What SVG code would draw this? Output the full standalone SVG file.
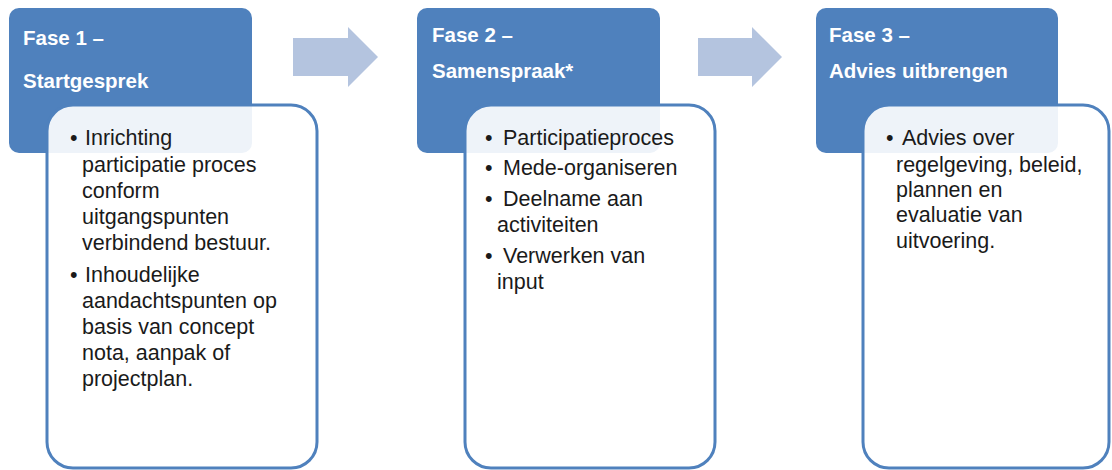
<svg xmlns="http://www.w3.org/2000/svg" width="1112" height="470" viewBox="0 0 1112 470">
<style>
.hdr{fill:#4f81bd}
.body{fill:#ffffff;fill-opacity:0.9;stroke:#4f81bd;stroke-width:3}
.ht{font-family:"Liberation Sans",Arial,sans-serif;font-weight:bold;font-size:20.5px;fill:#ffffff}
.bt{font-family:"Liberation Sans",Arial,sans-serif;font-size:21.5px;fill:#1a1a1a}
.arrow{fill:#b4c4df}
</style>
<rect width="1112" height="470" fill="#ffffff"/>
<g id="connectors">
<polygon class="arrow" points="293,38 348,38 348,27 378,57 348,87 348,76 293,76"/>
<polygon class="arrow" points="698,38 752,38 752,27 782,57 752,87 752,76 698,76"/>
</g>
<g id="fase1">
<rect class="hdr" x="9" y="8" width="243" height="145" rx="10"/>
<text class="ht" x="23" y="45">Fase 1 –</text>
<text class="ht" x="23" y="88">Startgesprek</text>
<rect class="body" x="47" y="105" width="270" height="363" rx="26"/>
<g class="bt">
<text x="70" y="145">•</text>
<text x="85" y="145">Inrichting</text>
<text x="82" y="172">participatie proces</text>
<text x="82" y="198">conform</text>
<text x="82" y="224">uitgangspunten</text>
<text x="82" y="250">verbindend bestuur.</text>
<text x="70" y="282">•</text>
<text x="85" y="282">Inhoudelijke</text>
<text x="82" y="308">aandachtspunten op</text>
<text x="82" y="334">basis van concept</text>
<text x="82" y="360">nota, aanpak of</text>
<text x="82" y="386">projectplan.</text>
</g>
</g>
<g id="fase2">
<rect class="hdr" x="417" y="8" width="243" height="145" rx="10"/>
<text class="ht" x="432" y="42">Fase 2 –</text>
<text class="ht" x="432" y="78">Samenspraak*</text>
<rect class="body" x="465" y="105" width="250" height="363" rx="26"/>
<g class="bt">
<text x="485" y="145">•</text>
<text x="503" y="145">Participatieproces</text>
<text x="485" y="175">•</text>
<text x="503" y="175">Mede-organiseren</text>
<text x="485" y="206">•</text>
<text x="503" y="206">Deelname aan</text>
<text x="497" y="232">activiteiten</text>
<text x="485" y="263">•</text>
<text x="503" y="263">Verwerken van</text>
<text x="497" y="289">input</text>
</g>
</g>
<g id="fase3">
<rect class="hdr" x="816" y="8" width="242" height="145" rx="10"/>
<text class="ht" x="829" y="42">Fase 3 –</text>
<text class="ht" x="829" y="78">Advies uitbrengen</text>
<rect class="body" x="863" y="105" width="246" height="363" rx="26"/>
<g class="bt">
<text x="886" y="145">•</text>
<text x="902" y="145">Advies over</text>
<text x="896" y="172">regelgeving, beleid,</text>
<text x="896" y="197">plannen en</text>
<text x="896" y="222">evaluatie van</text>
<text x="896" y="248">uitvoering.</text>
</g>
</g>
</svg>
